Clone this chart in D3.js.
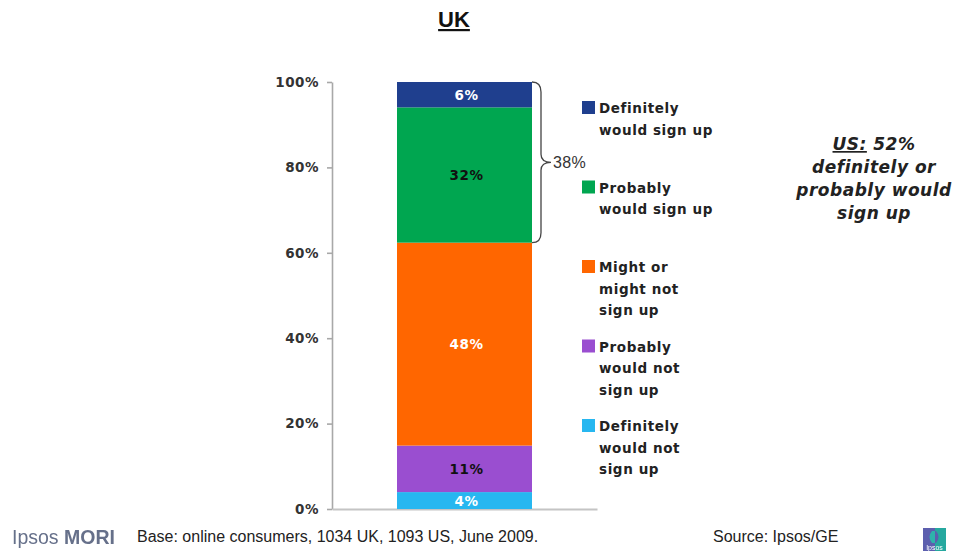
<!DOCTYPE html>
<html>
<head>
<meta charset="utf-8">
<script src="https://cdn.jsdelivr.net/npm/d3@7/dist/d3.min.js"></script>
<style>
  html, body { margin: 0; padding: 0; background: #fff; }
  svg { display: block; }
</style>
</head>
<body>
<svg id="chart" width="956" height="551"></svg>
<script>
// Survey answers, stacked bottom to top
const categories = ["UK"];
const seriesNames = [
  "Definitely would not sign up",
  "Probably would not sign up",
  "Might or might not sign up",
  "Probably would sign up",
  "Definitely would sign up"
];
const ukValues = [4, 11, 48, 32, 6];
const tickValues = [0, 20, 40, 60, 80, 100];
// legend reads top to bottom, each entry broken into lines
const legendOrder = [4, 3, 2, 1, 0];
const legendLines = [
  ["Definitely", "would not", "sign up"],
  ["Probably", "would not", "sign up"],
  ["Might or", "might not", "sign up"],
  ["Probably", "would sign up"],
  ["Definitely", "would sign up"]
];
const braceLabel = "38%";
const usLines = ["definitely or", "probably would", "sign up"];

const palette = ["#27b7f0", "#9a4ed0", "#ff6600", "#00a650", "#1f3f8e"];
const labelInk = ["#ffffff", "#111111", "#ffffff", "#111111", "#ffffff"];

const svg = d3.select("#chart");
const boldFont = "'DejaVu Sans', Verdana, sans-serif";
const armFont = "'Liberation Sans', Arial, sans-serif";

// Title
svg.append("text")
  .attr("x", 454).attr("y", 27)
  .attr("text-anchor", "middle")
  .attr("font-family", armFont).attr("font-weight", "bold")
  .attr("font-size", 22).attr("fill", "#111")
  .attr("text-decoration", "underline")
  .text(categories[0]);

// Scales
const y = d3.scaleLinear().domain([0, 1]).range([509, 82]);
const x = d3.scaleBand().domain(categories).range([332, 597])
  .paddingInner(0.325).paddingOuter(0.325);

const row = { cat: categories[0] };
seriesNames.forEach((k, i) => row[k] = ukValues[i]);
const stacked = d3.stack().keys(seriesNames).offset(d3.stackOffsetExpand)([row]);

// Axes
const yAxis = d3.axisLeft(y)
  .tickValues(tickValues.map(v => v / 100))
  .tickFormat(d => Math.round(d * 100) + "%")
  .tickSize(5).tickSizeOuter(0).tickPadding(8);
const gy = svg.append("g").attr("transform", "translate(332,0)").call(yAxis);
gy.selectAll("path, line").attr("stroke", "#a8a8a8").attr("stroke-width", 1.6);
gy.selectAll("text")
  .attr("font-family", boldFont).attr("font-weight", "bold")
  .attr("font-size", 13.5).attr("fill", "#333")
  .attr("letter-spacing", 0.5);

const xAxis = d3.axisBottom(x).tickSize(0).tickSizeOuter(0).tickFormat("");
const gx = svg.append("g").attr("transform", "translate(0,509)").call(xAxis);
gx.selectAll("path").attr("stroke", "#c4c4c4").attr("stroke-width", 2);

// Bars
const layers = svg.append("g").selectAll("g").data(stacked).join("g")
  .attr("fill", (d, i) => palette[i]);
layers.selectAll("rect").data(d => d).join("rect")
  .attr("x", d => x(d.data.cat))
  .attr("width", x.bandwidth())
  .attr("y", d => y(d[1]))
  .attr("height", d => y(d[0]) - y(d[1]));

// Value labels
stacked.forEach((layer, i) => {
  layer.forEach(d => {
    svg.append("text")
      .attr("x", x(d.data.cat) + x.bandwidth() / 2 + 2)
      .attr("y", (y(d[0]) + y(d[1])) / 2 + 5)
      .attr("text-anchor", "middle")
      .attr("font-family", boldFont).attr("font-weight", "bold")
      .attr("font-size", 13.5).attr("letter-spacing", 0.6)
      .attr("fill", labelInk[i])
      .text(ukValues[i] + "%");
  });
});

// Brace over the two "would sign up" segments
const bx = x(categories[0]) + x.bandwidth();
const yTop = y(stacked[4][0][1]);
const yBot = y(stacked[3][0][0]);
const yMid = (yTop + yBot) / 2;
const arm = 9, tip = 19;
const brace = d3.path();
brace.moveTo(bx, yTop);
brace.quadraticCurveTo(bx + arm, yTop, bx + arm, yTop + 10);
brace.lineTo(bx + arm, yMid - 8);
brace.quadraticCurveTo(bx + arm, yMid, bx + tip, yMid);
brace.quadraticCurveTo(bx + arm, yMid, bx + arm, yMid + 8);
brace.lineTo(bx + arm, yBot - 10);
brace.quadraticCurveTo(bx + arm, yBot, bx, yBot);
svg.append("path").attr("d", brace.toString())
  .attr("fill", "none").attr("stroke", "#444").attr("stroke-width", 1.3);
svg.append("text")
  .attr("x", bx + tip + 2).attr("y", yMid + 6)
  .attr("font-family", armFont).attr("font-size", 16)
  .attr("letter-spacing", 0.4).attr("fill", "#333")
  .text(braceLabel);

// Legend
const legend = svg.append("g").attr("transform", "translate(582,0)");
legendOrder.forEach((si, k) => {
  const base = 113 + k * 79.5;
  const g = legend.append("g");
  g.append("rect")
    .attr("x", 0).attr("y", base - 12)
    .attr("width", 13).attr("height", 13)
    .attr("fill", palette[si]);
  const t = g.append("text")
    .attr("font-family", boldFont).attr("font-weight", "bold")
    .attr("font-size", 13.5).attr("letter-spacing", 0.6)
    .attr("fill", "#222");
  legendLines[si].forEach((line, j) => {
    t.append("tspan").attr("x", 17).attr("y", base + j * 21.7).text(line);
  });
});

// US comparison note
const note = svg.append("g")
  .attr("font-family", boldFont).attr("font-weight", "bold")
  .attr("font-style", "italic").attr("font-size", 17)
  .attr("letter-spacing", 0.5).attr("fill", "#222")
  .attr("text-anchor", "middle");
const first = note.append("text").attr("x", 874).attr("y", 150);
first.append("tspan").attr("text-decoration", "underline").text("US:");
first.append("tspan").text(" 52%");
usLines.forEach((line, j) => {
  note.append("text").attr("x", 874).attr("y", 173 + j * 23).text(line);
});

// Footer
const defs = svg.append("defs");
defs.append("filter").attr("id", "soft")
  .append("feGaussianBlur").attr("stdDeviation", 0.6);

const brand = svg.append("text")
  .attr("x", 12).attr("y", 544)
  .attr("font-family", armFont).attr("font-size", 19.5)
  .attr("fill", "#66708a").attr("filter", "url(#soft)");
brand.append("tspan").text("Ipsos ");
brand.append("tspan").attr("font-weight", "bold").text("MORI");

svg.append("text")
  .attr("x", 137).attr("y", 542)
  .attr("font-family", armFont).attr("font-size", 16).attr("fill", "#222")
  .text("Base: online consumers, 1034 UK, 1093 US, June 2009.");
svg.append("text")
  .attr("x", 713).attr("y", 542)
  .attr("font-family", armFont).attr("font-size", 16).attr("fill", "#222")
  .text("Source: Ipsos/GE");

// small corner mark
const mark = svg.append("g").attr("transform", "translate(923,528)").attr("filter", "url(#soft)");
mark.append("rect").attr("width", 23).attr("height", 23).attr("fill", "#5b5fae");
mark.append("rect").attr("x", 12).attr("width", 11).attr("height", 23).attr("fill", "#25a89f");
mark.append("path").attr("d", "M9,3 Q4,9 9,15 L12,15 L12,3 Z").attr("fill", "#2fb3ab");
mark.append("path").attr("d", "M13,3 Q18,9 13,15 L12,15 L12,3 Z").attr("fill", "#5b5fae");
mark.append("text").attr("x", 11.5).attr("y", 22)
  .attr("text-anchor", "middle").attr("font-family", armFont)
  .attr("font-size", 7).attr("fill", "#fff").text("Ipsos");
</script>
</body>
</html>
